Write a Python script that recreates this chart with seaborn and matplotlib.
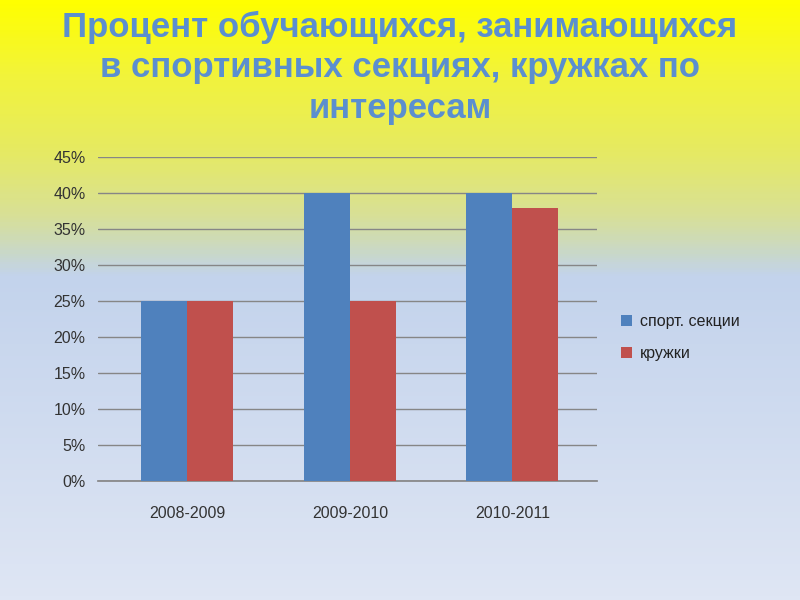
import numpy as np
import pandas as pd
import matplotlib
matplotlib.use("Agg")
import matplotlib.pyplot as plt
from matplotlib.colors import LinearSegmentedColormap
from matplotlib.ticker import PercentFormatter
import seaborn as sns

years = ["2008-2009", "2009-2010", "2010-2011"]
sport = [25, 40, 40]
clubs = [25, 25, 38]
series_names = ["спорт. секции", "кружки"]

df = pd.DataFrame({
    "Год": years * 2,
    "Процент": sport + clubs,
    "Вид": [series_names[0]] * 3 + [series_names[1]] * 3,
})

sns.set_theme(style="white")
plt.rcParams["font.family"] = ["Liberation Sans", "DejaVu Sans"]

fig = plt.figure(figsize=(8, 6), dpi=100)

# gradient background for the slide
bg = fig.add_axes([0, 0, 1, 1], zorder=-10)
grad = LinearSegmentedColormap.from_list(
    "slide",
    [(0.0, "#ffff00"), (0.12, "#f2f43a"), (0.25, "#e6ea62"),
     (0.36, "#d8e098"), (0.42, "#c9d8c8"), (0.46, "#c3d3ec"),
     (1.0, "#dfe6f4")],
)
bg.imshow(np.linspace(0, 1, 300).reshape(-1, 1), aspect="auto", cmap=grad,
          extent=[0, 1, 0, 1], origin="upper")
bg.axis("off")

ax = fig.add_axes([0.1225, 0.198, 0.6235, 0.54])
ax.patch.set_alpha(0)
sns.barplot(data=df, x="Год", y="Процент", hue="Вид",
            palette=["#4f81bd", "#c0504d"], width=0.565, saturation=1,
            linewidth=0, ax=ax, zorder=3)

ax.set_ylim(0, 45)
ax.set_xlim(-0.55, 2.52)
ax.set_yticks(range(0, 46, 5))
ax.yaxis.set_major_formatter(PercentFormatter(decimals=0))
ax.grid(axis="y", color="#868686", linewidth=1, zorder=0)
ax.set_axisbelow(True)
for side in ["top", "right", "left"]:
    ax.spines[side].set_visible(False)
ax.spines["bottom"].set_color("#868686")
ax.set_xlabel("")
ax.set_ylabel("")
ax.tick_params(axis="both", length=0, labelsize=11.5, labelcolor="#333333")
ax.tick_params(axis="y", pad=9)
ax.tick_params(axis="x", pad=18)

ax.legend(loc="center left", bbox_to_anchor=(1.02, 0.443), frameon=False,
          fontsize=11.5, handlelength=0.7, handleheight=0.7, labelspacing=1.05,
          handletextpad=0.5, labelcolor="#222222")

fig.text(0.5, 0.982, "Процент обучающихся, занимающихся\nв спортивных секциях, кружках по\nинтересам",
         ha="center", va="top", fontsize=25, fontweight="bold",
         color="#5b8fcf", linespacing=1.28)

fig.savefig("out.png", dpi=100)
